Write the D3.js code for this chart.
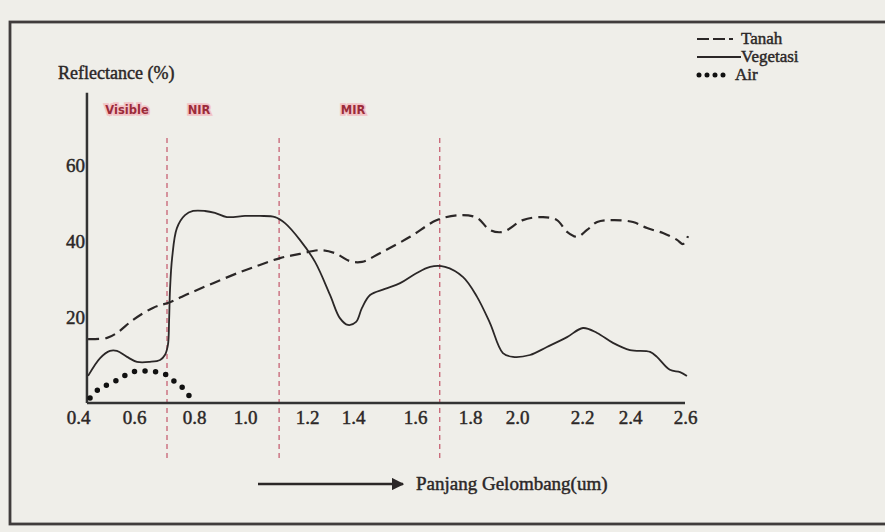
<!DOCTYPE html>
<html>
<head>
<meta charset="utf-8">
<script src="https://cdn.jsdelivr.net/npm/d3@7"></script>
<style>
  body { margin: 0; background: #efeee9; }
  svg { display: block; }
  .serif { font-family: 'Liberation Serif', serif; fill: #2b2727; stroke: #2b2727; stroke-width: 0.45px; }
</style>
</head>
<body>
<div id="chart"></div>
<script>
// tick labels of the two axes
const xTicks = [0.4, 0.6, 0.8, 1.0, 1.2, 1.4, 1.6, 1.8, 2.0, 2.2, 2.4, 2.6];
const yTicks = [20, 40, 60];

// spectral region borders and names
const bandLines = [0.71, 1.11, 1.69];
const bandNames = ["Visible", "NIR", "MIR"];
const bandLabelAt = [0.575, 0.82, 1.40];

// Tanah (soil)
const tanahWl = [0.436, 0.504, 0.539, 0.596, 0.663, 0.72, 0.787, 0.875, 0.98, 1.048, 1.113, 1.177,
  1.257, 1.322, 1.387, 1.429, 1.487, 1.584, 1.68, 1.764, 1.83, 1.885, 1.94, 2.018, 2.08, 2.123,
  2.154, 2.185, 2.221, 2.263, 2.329, 2.411, 2.462, 2.52, 2.571, 2.593, 2.611];
const tanahR = [14.2, 14.5, 15.8, 19.2, 22.4, 23.9, 26.3, 28.9, 31.8, 33.7, 35.5, 36.6,
  37.6, 36.8, 34.7, 34.5, 36.8, 41.1, 45.5, 46.8, 46.1, 42.9, 42.4, 45.5, 46.3, 45.5,
  42.4, 41.1, 42.9, 45.0, 45.5, 45.0, 43.4, 42.1, 40.3, 39.2, 41.3];

// Vegetasi (vegetation)
const vegetasiWl = [0.436, 0.479, 0.514, 0.539, 0.575, 0.61, 0.653, 0.687, 0.703, 0.713, 0.717,
  0.72, 0.727, 0.743, 0.77, 0.797, 0.843, 0.882, 0.929, 1.0, 1.048, 1.097, 1.129, 1.177, 1.235,
  1.3, 1.343, 1.378, 1.41, 1.429, 1.455, 1.503, 1.552, 1.6, 1.655, 1.709, 1.775, 1.83, 1.885,
  1.94, 1.983, 2.04, 2.092, 2.154, 2.204, 2.263, 2.329, 2.4, 2.473, 2.498, 2.545, 2.582, 2.607];
const vegetasiR = [4.5, 9.2, 11.1, 11.1, 9.5, 8.2, 8.2, 8.7, 10.0, 12.6, 19.2,
  27.1, 35.5, 43.4, 46.8, 47.9, 47.9, 47.4, 46.3, 46.6, 46.6, 46.3, 44.7, 40.3, 34.5,
  25.8, 19.7, 17.9, 18.7, 22.4, 25.8, 27.4, 28.9, 31.3, 33.2, 33.2, 30.5, 25.3, 18.4,
  10.5, 9.5, 10.0, 12.1, 14.7, 17.1, 15.8, 13.2, 11.3, 10.8, 9.5, 6.1, 5.5, 4.5];

// Air (water)
const airWl = [0.443, 0.479, 0.521, 0.557, 0.593, 0.637, 0.677, 0.71, 0.737, 0.763, 0.787];
const airR = [-1.3, 1.3, 2.6, 4.2, 5.5, 5.8, 5.5, 4.7, 2.9, 1.3, -1.1];

const W = 885, H = 532;
const ink = "#2b2727";

const svg = d3.select("#chart").append("svg")
    .attr("width", W)
    .attr("height", H);

svg.append("rect")
    .attr("width", W).attr("height", H)
    .attr("fill", "#efeee9");

// frame round the picture
svg.append("rect")
    .attr("x", 10).attr("y", 22)
    .attr("width", 890).attr("height", 502)
    .attr("fill", "none")
    .attr("stroke", "#403c3c")
    .attr("stroke-width", 2.8);

// hand drawn axis: tick spacing is not even, so a piecewise scale
const x = d3.scaleLinear()
    .domain(xTicks)
    .range([78, 134, 194, 245, 307, 353, 415, 470, 517, 582, 630, 685]);
const y = d3.scaleLinear()
    .domain([0, 60])
    .range([393, 165]);

const xStart = 0.432;   // where the y axis stands
const yBottom = -2.6;   // where the x axis lies
const yTop = 79;

// red dashed region borders
svg.selectAll(".band")
    .data(bandLines)
    .enter().append("line")
    .attr("class", "band")
    .attr("x1", d => x(d)).attr("x2", d => x(d))
    .attr("y1", 138).attr("y2", 460)
    .attr("stroke", "#c4566a")
    .attr("stroke-width", 1.2)
    .attr("stroke-dasharray", "5,4");

svg.selectAll(".bandname")
    .data(bandNames)
    .enter().append("text")
    .attr("class", "bandname")
    .attr("x", (d, i) => x(bandLabelAt[i]))
    .attr("y", 114)
    .attr("text-anchor", "middle")
    .style("font-family", "'DejaVu Sans', sans-serif")
    .style("font-size", "11.5px")
    .style("font-weight", "600")
    .style("fill", "#9c2b3a")
    .style("stroke", "#f2c3c6")
    .style("stroke-width", 3.5)
    .style("paint-order", "stroke")
    .text(d => d);

// axes lines
svg.append("line")
    .attr("x1", x(xStart)).attr("x2", x(2.6))
    .attr("y1", y(yBottom)).attr("y2", y(yBottom))
    .attr("stroke", "#333").attr("stroke-width", 2.5);
svg.append("line")
    .attr("x1", x(xStart)).attr("x2", x(xStart))
    .attr("y1", y(yBottom)).attr("y2", y(yTop))
    .attr("stroke", "#333").attr("stroke-width", 2.5);

// tick labels
const xAxis = svg.append("g")
    .attr("transform", "translate(0," + y(yBottom) + ")")
    .call(d3.axisBottom(x).tickValues(xTicks).tickSize(0).tickPadding(8)
      .tickFormat(d3.format(".1f")));
const yAxis = svg.append("g")
    .attr("transform", "translate(" + (x(xStart) - 1) + ",0)")
    .call(d3.axisLeft(y).tickValues(yTicks).tickSize(0).tickPadding(1));
[xAxis, yAxis].forEach(g => {
  g.select(".domain").remove();
  g.selectAll("text")
      .attr("class", "serif")
      .attr("fill", null)
      .style("font-size", "19px");
});

// the three curves
const line = d3.line()
    .x(d => x(d[0]))
    .y(d => y(d[1]))
    .curve(d3.curveCatmullRom.alpha(0.5));

svg.append("path")
    .datum(d3.zip(tanahWl, tanahR))
    .attr("d", line)
    .attr("fill", "none")
    .attr("stroke", ink)
    .attr("stroke-width", 2.2)
    .attr("stroke-dasharray", "11,6");

svg.append("path")
    .datum(d3.zip(vegetasiWl, vegetasiR))
    .attr("d", line)
    .attr("fill", "none")
    .attr("stroke", ink)
    .attr("stroke-width", 1.8);

svg.append("path")
    .datum(d3.zip(airWl, airR))
    .attr("d", line)
    .attr("fill", "none")
    .attr("stroke", "#111")
    .attr("stroke-width", 5.5)
    .attr("stroke-linecap", "round")
    .attr("stroke-dasharray", "0,10.5");

// y title
svg.append("text")
    .attr("class", "serif")
    .attr("x", 58).attr("y", 79)
    .style("font-size", "18px")
    .text("Reflectance (%)");

// legend
const legend = svg.append("g").attr("transform", "translate(697,0)");
legend.append("line")
    .attr("x1", 0).attr("x2", 41).attr("y1", 39).attr("y2", 39)
    .attr("stroke", ink).attr("stroke-width", 2.2)
    .attr("stroke-dasharray", "12,4,12,4,4,5");
legend.append("line")
    .attr("x1", 0).attr("x2", 44).attr("y1", 57).attr("y2", 57)
    .attr("stroke", ink).attr("stroke-width", 2);
legend.append("line")
    .attr("x1", 2).attr("x2", 27).attr("y1", 75).attr("y2", 75)
    .attr("stroke", "#111").attr("stroke-width", 5)
    .attr("stroke-linecap", "round")
    .attr("stroke-dasharray", "0,8");
legend.selectAll("text")
    .data(["Tanah", "Vegetasi", "Air"])
    .enter().append("text")
    .attr("class", "serif")
    .attr("x", (d, i) => i === 2 ? 38 : 44)
    .attr("y", (d, i) => 44 + i * 18)
    .style("font-size", "17px")
    .text(d => d);

// x title with arrow
svg.append("defs").append("marker")
    .attr("id", "arrow")
    .attr("viewBox", "0 0 10 10")
    .attr("refX", 9).attr("refY", 5)
    .attr("markerWidth", 5).attr("markerHeight", 5)
    .attr("orient", "auto")
    .append("path")
    .attr("d", "M0,0L10,5L0,10z")
    .attr("fill", ink);
svg.append("line")
    .attr("x1", 258).attr("x2", 403)
    .attr("y1", 484).attr("y2", 484)
    .attr("stroke", ink).attr("stroke-width", 2.5)
    .attr("marker-end", "url(#arrow)");
svg.append("text")
    .attr("class", "serif")
    .attr("x", 416).attr("y", 490)
    .style("font-size", "19px")
    .text("Panjang Gelombang(um)");
</script>
</body>
</html>
